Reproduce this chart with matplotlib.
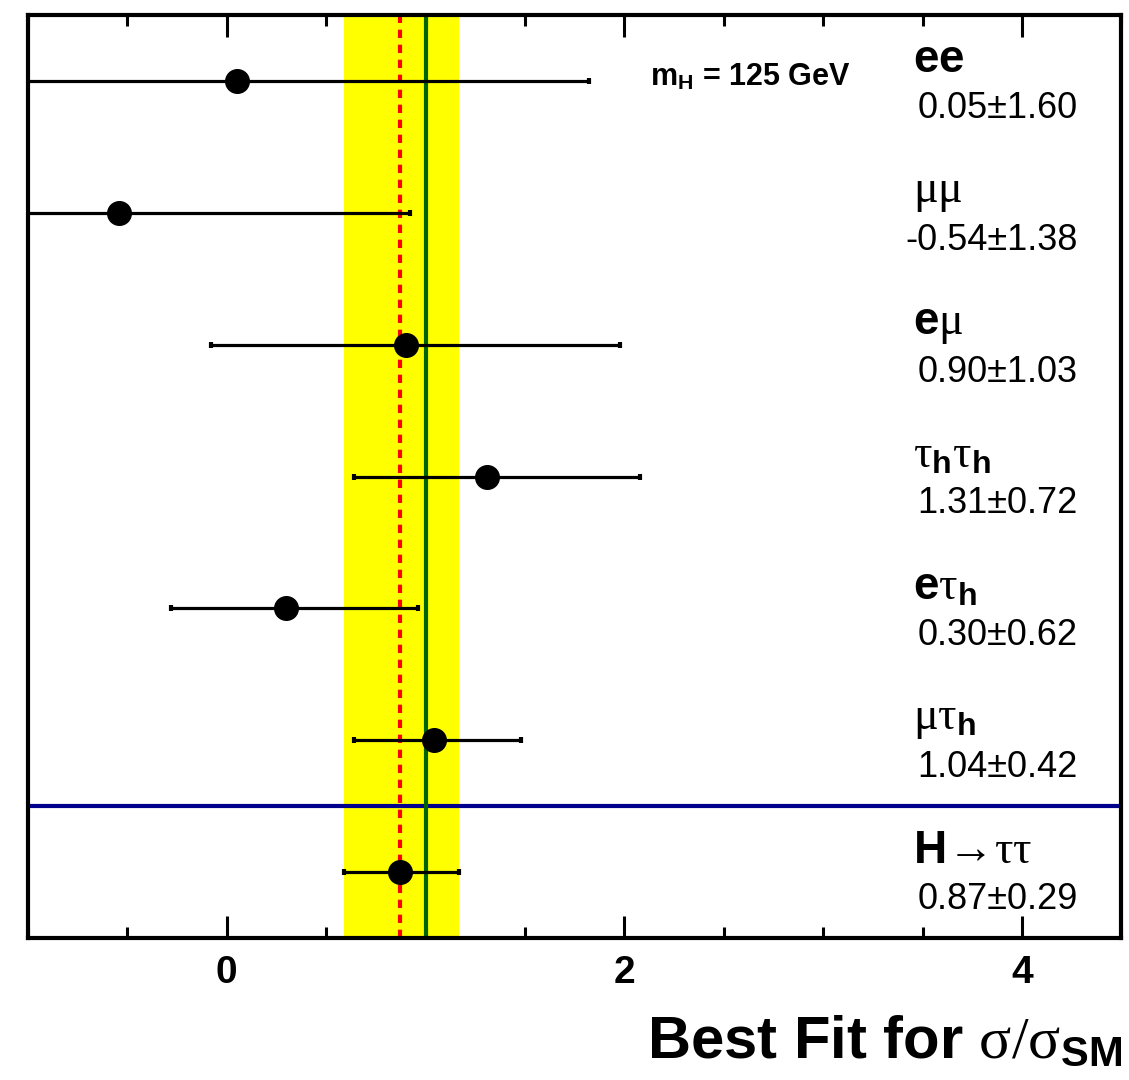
import matplotlib
matplotlib.use("Agg")
import matplotlib.pyplot as plt
from matplotlib.ticker import MultipleLocator
import numpy as np

plt.rcParams['font.family'] = ['Liberation Sans', 'DejaVu Sans']
plt.rcParams['mathtext.fontset'] = 'custom'
plt.rcParams['mathtext.rm'] = 'Liberation Serif'
plt.rcParams['mathtext.it'] = 'Liberation Serif:italic'
plt.rcParams['mathtext.bf'] = 'Liberation Sans:bold'
plt.rcParams['mathtext.sf'] = 'Liberation Sans'

# channels, top to bottom
labels = [r"$\mathbf{ee}$",
          r"$\mathrm{\mu\mu}$",
          r"$\mathbf{e}\mathrm{\mu}$",
          r"$\mathrm{\tau}_{\mathbf{h}}\mathrm{\tau}_{\mathbf{h}}$",
          r"$\mathbf{e}\mathrm{\tau}_{\mathbf{h}}$",
          r"$\mathrm{\mu\tau}_{\mathbf{h}}$",
          r"$\mathbf{H}\!\mathrm{\rightarrow}\!\mathrm{\tau\tau}$"]
values_txt = ["0.05\u00b11.60", "-0.54\u00b11.38", "0.90\u00b11.03", "1.31\u00b10.72",
              "0.30\u00b10.62", "1.04\u00b10.42", "0.87\u00b10.29"]
mu = [0.05, -0.54, 0.90, 1.31, 0.30, 1.04, 0.87]
lo = [-1.55, -1.92, -0.08, 0.64, -0.28, 0.64, 0.59]
hi = [1.82, 0.92, 1.98, 2.08, 0.96, 1.48, 1.17]

comb_mu = 0.87
comb_lo = 0.59
comb_hi = 1.17

mu = np.array(mu)
lo = np.array(lo)
hi = np.array(hi)
ypos = np.arange(len(mu))[::-1] + 0.5

fig = plt.figure(figsize=(11.29, 10.8), dpi=100)
ax = fig.add_axes([0.0248, 0.1315, 0.9685, 0.8545])

ax.axvspan(comb_lo, comb_hi, color='#ffff00', zorder=1, lw=0)
ax.axvline(comb_mu, color='#ff0000', lw=3, ls=(0, (2.0, 1.6)), zorder=2)
ax.axhline(1.0, color='#00008c', lw=3, zorder=3)
ax.axvline(1.0, color='#006400', lw=3, zorder=4)

ax.errorbar(mu, ypos, xerr=[mu - lo, hi - mu], fmt='o', color='black',
            ms=17, elinewidth=2.3, capsize=2.5, capthick=3, zorder=5)

for y, lab, v in zip(ypos, labels, values_txt):
    ax.text(3.45, y + 0.16, lab, fontsize=33, ha='left', va='center', zorder=6)
    ax.text(4.28, y - 0.28, v, fontsize=26, ha='right', va='baseline', zorder=6)

ax.text(2.13, 6.53, r"$\mathbf{m}_{\mathbf{H}}$ = 125 GeV", fontsize=22,
        fontweight='bold', ha='left', va='center')

ax.set_xlim(-1, 4.5)
ax.set_ylim(0, 7)
ax.xaxis.set_major_locator(MultipleLocator(2))
ax.xaxis.set_minor_locator(MultipleLocator(0.5))
ax.set_yticks([])
ax.tick_params(axis='x', which='both', direction='in', top=True, bottom=True,
               labelsize=28, pad=12, width=2.2)
ax.tick_params(axis='x', which='major', length=16)
ax.tick_params(axis='x', which='minor', length=8)
for lab in ax.get_xticklabels():
    lab.set_fontweight('bold')
for s in ax.spines.values():
    s.set_linewidth(3)
    s.set_zorder(10)

fig.text(1122 / 1129, 1 - 1058 / 1080,
         r"Best Fit for $\mathrm{\sigma/\sigma}_{\mathbf{SM}}$",
         fontsize=43, fontweight='bold', ha='right', va='baseline')

fig.savefig("out.png", dpi=100)
